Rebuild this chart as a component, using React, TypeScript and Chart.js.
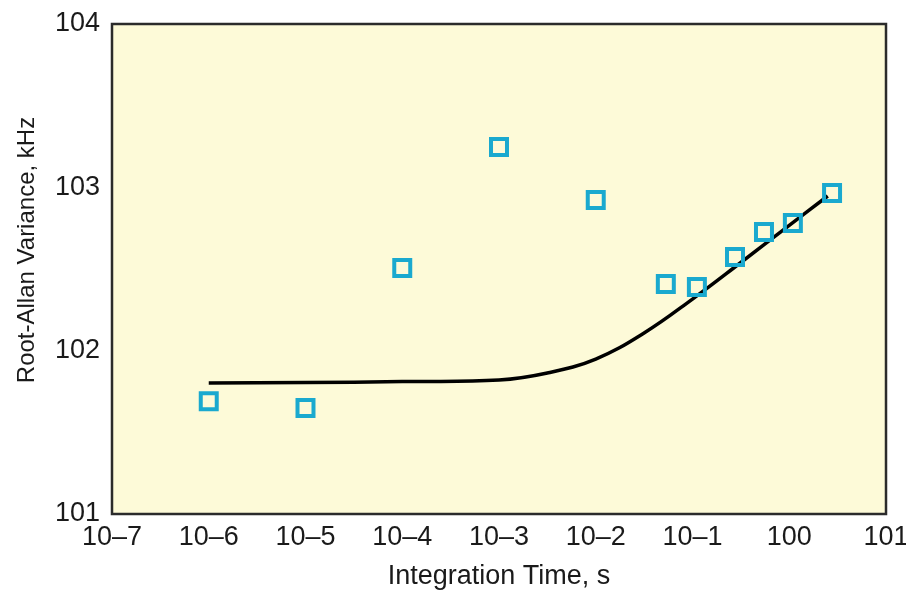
import React, { useEffect, useRef } from "react";
import { Chart, registerables } from "chart.js";

Chart.register(...registerables);

// Measured points (integration time in s, root-Allan variance in kHz)
const pointTimes = [1e-6, 1e-5, 1e-4, 1e-3, 1e-2, 0.053, 0.111, 0.275, 0.548, 1.09, 2.77];
const pointValues = [49, 44.6, 321, 1767, 837, 256, 245, 375, 533, 605, 924];

// Fitted curve samples
const curveTimes = [1e-6, 1e-5, 1e-4, 1e-3, 3.16e-3, 1e-2, 3.16e-2, 0.1, 0.316, 1, 2.5];
const curveValues = [63.4, 63.8, 64.7, 66.1, 73, 88.9, 128.3, 207, 346.5, 584.6, 885];

// Axis ticks and labels
const xTickValues = [1e-7, 1e-6, 1e-5, 1e-4, 1e-3, 1e-2, 1e-1, 1, 10];
const xTickLabels = ["10–7", "10–6", "10–5", "10–4", "10–3", "10–2", "10–1", "100", "101"];
const yTickValues = [10, 100, 1000, 10000];
const yTickLabels = ["101", "102", "103", "104"];
const yTitle = "Root-Allan Variance, kHz";

const FONT = "'Liberation Sans', Arial, sans-serif";

const boxPlugin = {
  id: "boxPlugin",
  beforeDatasetsDraw(chart: any) {
    const { ctx, chartArea } = chart;
    const { left, top, right, bottom } = chartArea;
    ctx.save();
    ctx.fillStyle = "#fdfad8";
    ctx.fillRect(left, top, right - left, bottom - top);
    ctx.strokeStyle = "#2b2b2b";
    ctx.lineWidth = 2.5;
    ctx.strokeRect(left, top, right - left, bottom - top);
    ctx.restore();
  },
  afterDraw(chart: any) {
    const { ctx } = chart;
    ctx.save();
    ctx.translate(27, 250);
    ctx.rotate(-Math.PI / 2);
    ctx.fillStyle = "#1a1a1a";
    ctx.font = `24px ${FONT}`;
    ctx.textAlign = "center";
    ctx.textBaseline = "middle";
    ctx.fillText(yTitle, 0, 0);
    ctx.restore();
  },
};

export default function App() {
  const ref = useRef<HTMLCanvasElement | null>(null);

  useEffect(() => {
    document.body.style.margin = "0";
    const canvas = ref.current;
    if (!canvas) return;
    const chart = new Chart(canvas, {
      type: "scatter",
      data: {
        datasets: [
          {
            type: "line",
            label: "fit",
            data: curveTimes.map((t, i) => ({ x: t, y: curveValues[i] })),
            borderColor: "#000000",
            borderWidth: 3.5,
            pointRadius: 0,
            fill: false,
            tension: 0.4,
            order: 2,
          } as any,
          {
            type: "scatter",
            label: "data",
            data: pointTimes.map((t, i) => ({ x: t, y: pointValues[i] })),
            pointStyle: "rect",
            pointRadius: 11.3,
            pointBorderWidth: 4,
            borderColor: "#1aa9cf",
            backgroundColor: "rgba(0,0,0,0)",
            pointBackgroundColor: "rgba(0,0,0,0)",
            pointBorderColor: "#1aa9cf",
            order: 1,
          } as any,
        ],
      },
      options: {
        animation: false,
        responsive: false,
        maintainAspectRatio: false,
        layout: { padding: { left: 0, top: 24, right: 20, bottom: 0 } },
        plugins: { legend: { display: false }, tooltip: { enabled: false } },
        scales: {
          x: {
            type: "logarithmic",
            min: 1e-7,
            max: 10,
            grid: { display: false, drawTicks: false },
            border: { display: false },
            afterBuildTicks: (scale: any) => {
              scale.ticks = xTickValues.map((v) => ({ value: v }));
            },
            afterFit: (scale: any) => {
              scale.height = 80;
              scale.paddingRight = 0;
              scale.paddingLeft = 0;
            },
            ticks: {
              autoSkip: false,
              maxRotation: 0,
              color: "#1a1a1a",
              padding: 7,
              font: { family: FONT, size: 27 },
              callback: (value: any) => {
                const idx = xTickValues.findIndex((v) => Math.abs(Math.log10(v) - Math.log10(Number(value))) < 1e-6);
                return idx >= 0 ? xTickLabels[idx] : "";
              },
            },
            title: {
              display: true,
              text: "Integration Time, s",
              color: "#1a1a1a",
              font: { family: FONT, size: 27 },
              padding: { top: 0, bottom: 1 },
            },
          },
          y: {
            type: "logarithmic",
            min: 10,
            max: 10000,
            grid: { display: false, drawTicks: false },
            border: { display: false },
            afterBuildTicks: (scale: any) => {
              scale.ticks = yTickValues.map((v) => ({ value: v }));
            },
            afterFit: (scale: any) => {
              scale.width = 112;
              scale.paddingTop = 0;
              scale.paddingBottom = 0;
            },
            ticks: {
              autoSkip: false,
              color: "#1a1a1a",
              padding: 12,
              font: { family: FONT, size: 27 },
              callback: (value: any) => {
                const idx = yTickValues.findIndex((v) => Math.abs(Math.log10(v) - Math.log10(Number(value))) < 1e-6);
                return idx >= 0 ? yTickLabels[idx] : "";
              },
            },
            title: { display: false },
          },
        },
      },
      plugins: [boxPlugin],
    });
    return () => chart.destroy();
  }, []);

  return (
    <div style={{ width: 906, height: 594, background: "#ffffff" }}>
      <canvas ref={ref} width={906} height={594} style={{ display: "block" }} />
    </div>
  );
}
